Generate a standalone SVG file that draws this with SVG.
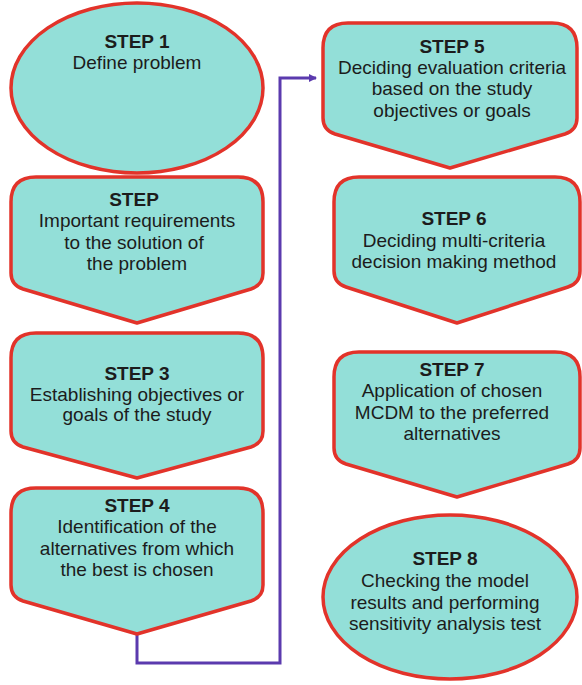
<svg xmlns="http://www.w3.org/2000/svg" width="582" height="685" viewBox="0 0 582 685">
<defs>
<style>
.shape{fill:#93dfd8;stroke:#e2332a;stroke-width:3.5;stroke-linejoin:round}
text{font-family:"Liberation Sans",Arial,sans-serif;font-size:19px;fill:#1c1c1c;text-anchor:middle}
.b{font-weight:bold}
.conn{fill:none;stroke:#5b3aae;stroke-width:3;stroke-linejoin:miter}
</style>
<marker id="arr" markerWidth="8" markerHeight="8" refX="7" refY="4" orient="auto" markerUnits="userSpaceOnUse">
<path d="M0,0 L8,4 L0,8 Z" fill="#5b3aae"/>
</marker>
</defs>
<rect width="582" height="685" fill="#ffffff"/>
<g id="connectors">
<polyline class="conn" points="137,634 137,663 280,663 280,78 316,78" marker-end="url(#arr)"/>
</g>
<g id="step1">
<ellipse class="shape" cx="137" cy="88" rx="126" ry="85"/>
<text x="137" y="48" class="b">STEP 1</text>
<text x="137" y="69">Define problem</text>
</g>
<g id="step2">
<path class="shape" d="M36 177 H238 Q263 177 263 202 V273 Q263 285 251 289 L137 323 L23 289 Q11 285 11 273 V202 Q11 177 36 177 Z"/>
<text x="134" y="206" class="b">STEP</text>
<text x="137" y="227">Important requirements</text>
<text x="134" y="249">to the solution of</text>
<text x="137" y="270">the problem</text>
</g>
<g id="step3">
<path class="shape" d="M36 333 H238 Q263 333 263 358 V431 Q263 443 251 447 L137 478 L23 447 Q11 443 11 431 V358 Q11 333 36 333 Z"/>
<text x="137" y="380" class="b">STEP 3</text>
<text x="137" y="401">Establishing objectives or</text>
<text x="137" y="421">goals of the study</text>
</g>
<g id="step4">
<path class="shape" d="M36 488 H238 Q263 488 263 513 V585 Q263 597 251 601 L137 634 L23 601 Q11 597 11 585 V513 Q11 488 36 488 Z"/>
<text x="137" y="512" class="b">STEP 4</text>
<text x="137" y="533">Identification of the</text>
<text x="137" y="555">alternatives from which</text>
<text x="137" y="576">the best is chosen</text>
</g>
<g id="step5">
<path class="shape" d="M348 23 H552 Q577 23 577 48 V118 Q577 130 565 134 L450 168 L335 134 Q323 130 323 118 V48 Q323 23 348 23 Z"/>
<text x="452" y="53" class="b">STEP 5</text>
<text x="452" y="74">Deciding evaluation criteria</text>
<text x="452" y="95">based on the study</text>
<text x="452" y="117">objectives or goals</text>
</g>
<g id="step6">
<path class="shape" d="M359 177 H555 Q580 177 580 202 V271 Q580 283 568 287 L457 323 L346 287 Q334 283 334 271 V202 Q334 177 359 177 Z"/>
<text x="454" y="225" class="b">STEP 6</text>
<text x="454" y="247">Deciding multi-criteria</text>
<text x="454" y="268">decision making method</text>
</g>
<g id="step7">
<path class="shape" d="M359 352 H555 Q580 352 580 377 V448 Q580 460 568 464 L457 497 L346 464 Q334 460 334 448 V377 Q334 352 359 352 Z"/>
<text x="452" y="376" class="b">STEP 7</text>
<text x="452" y="397">Application of chosen</text>
<text x="452" y="419">MCDM to the preferred</text>
<text x="452" y="440">alternatives</text>
</g>
<g id="step8">
<ellipse class="shape" cx="450" cy="597" rx="127" ry="82"/>
<text x="445" y="565" class="b">STEP 8</text>
<text x="445" y="587">Checking the model</text>
<text x="445" y="609">results and performing</text>
<text x="445" y="630">sensitivity analysis test</text>
</g>
</svg>
